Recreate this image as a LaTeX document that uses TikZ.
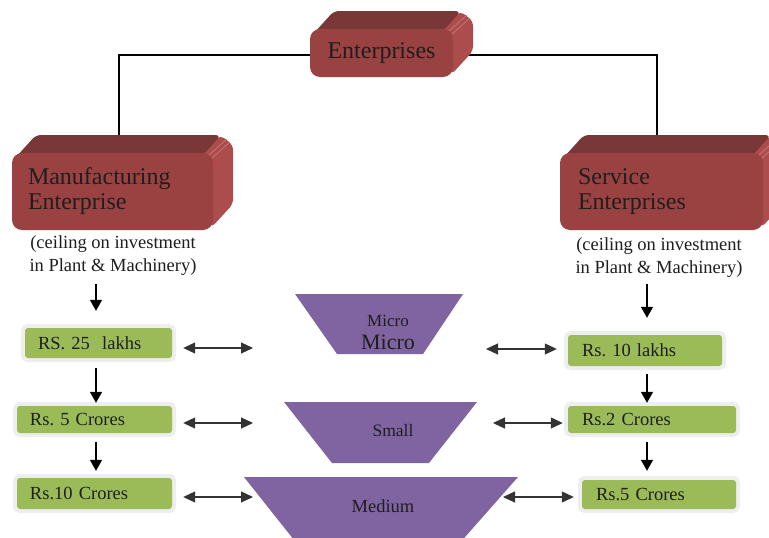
\documentclass[tikz,border=0pt]{standalone}
\usepackage{fontspec}
\setmainfont{Liberation Serif}
\usetikzlibrary{arrows.meta,calc}
\frenchspacing
\definecolor{redF}{HTML}{9A4242}
\definecolor{redT}{HTML}{7A3737}
\definecolor{redS}{HTML}{AC4C4C}
\definecolor{grn}{HTML}{9BBB59}
\definecolor{halo}{HTML}{EEEEEE}
\definecolor{purp}{HTML}{8064A2}
\definecolor{txt}{HTML}{1E1E1E}
\pgfdeclarelayer{bg}
\pgfsetlayers{bg,main}
\newcommand\tdbox[4]{%
 \fill[redS, rounded corners=5pt] (#3-12,#2) -- (#3+7,#2-18) -- (#3+20,#2-8) -- (#3+20,#4-26) -- (#3-2,#4-2) -- cycle;
 \draw[redS!70!white, line width=0.6pt] (#3-4,#2+2) -- (#3+14,#2-14);
 \draw[redS!70!white, line width=0.6pt] (#3-1,#2+5) -- (#3+17,#2-11);
 \fill[redT, rounded corners=5pt] (#1+4,#2+4) -- (#1+24,#2-18) -- (#3+8,#2-18) -- (#3-10,#2+2) -- cycle;
}
\tikzset{
 front/.style={fill=redF, rounded corners=10pt, text=txt, font=\fontsize{24}{25}\selectfont},
 gbox/.style={fill=grn, rounded corners=3pt, preaction={draw=halo, line width=8pt, rounded corners=4pt},
   text=txt, align=left, inner ysep=0pt, font=\fontsize{18.5}{20}\selectfont},
 captxt/.style={text=txt, align=center, inner sep=0pt, font=\fontsize{18.5}{23}\selectfont},
 ptxt/.style={text=txt, inner sep=0pt},
 trap/.style={fill=purp},
 conn/.style={draw=black, line width=1.1pt},
 varr/.style={draw=black, line width=1.5pt, -{Triangle[length=11pt,width=12pt]}},
 harr/.style={draw=black!80, line width=1.1pt, {Triangle[length=12pt,width=11pt]}-{Triangle[length=12pt,width=11pt]}},
}
\begin{document}
\begin{tikzpicture}[x=1pt,y=-1pt]
\useasboundingbox (0,0) rectangle (769,538);
\clip (0,0) rectangle (769,538);

% 3D boxes
\tdbox{310}{29}{453}{77}
\node[front, minimum width=143pt, minimum height=48pt] (ent) at (381.5,53) {Enterprises};
\tdbox{12}{153}{213}{230}
\node[front, minimum width=201pt, minimum height=77pt, text width=169pt, inner xsep=16pt, align=left] (mfg) at (112.5,191.5) {Manufacturing\\Enterprise};
\tdbox{560}{153}{763}{230}
\node[front, minimum width=203pt, minimum height=77pt, text width=167pt, inner xsep=18pt, align=left] (svc) at (661.5,191.5) {Service\\Enterprises};

\coordinate (mtop) at (119,135);
\coordinate (stop) at (657,135);
\begin{pgfonlayer}{bg}
\fill[white] (0,0) rectangle (769,538);
\draw[conn] ([yshift=-2pt]ent.west) -| (mtop);
\draw[conn] ([yshift=-2pt]ent.east) -| (stop);
\end{pgfonlayer}

% captions
\node[captxt] (cap1) at (113,256) {(ceiling on investment\\in Plant \& Machinery)};
\node[captxt] (cap2) at (659,258) {(ceiling on investment\\in Plant \& Machinery)};

% green boxes
\node[gbox, minimum width=147pt, minimum height=30pt, text width=121pt, inner xsep=13pt] (g1) at (98.5,343) {RS. 25\ \ lakhs};
\node[gbox, minimum width=155pt, minimum height=27pt, text width=129pt, inner xsep=13pt] (g2) at (94.5,419.5) {Rs. 5 Crores};
\node[gbox, minimum width=155pt, minimum height=31pt, text width=129pt, inner xsep=13pt] (g3) at (94.5,493.5) {Rs.10 Crores};
\node[gbox, minimum width=154pt, minimum height=31pt, text width=126pt, inner xsep=14pt] (r1) at (645,350.5) {Rs. 10 lakhs};
\node[gbox, minimum width=168pt, minimum height=27pt, text width=140pt, inner xsep=14pt] (r2) at (652,419.5) {Rs.2 Crores};
\node[gbox, minimum width=154pt, minimum height=29pt, text width=126pt, inner xsep=14pt] (r3) at (659,494.5) {Rs.5 Crores};

% trapezoids
\fill[trap] (295,294) -- (463,294) -- (423,354) -- (337,354) -- cycle;
\fill[trap] (284,402) -- (477,402) -- (429,463) -- (332,463) -- cycle;
\fill[trap] (244,477) -- (518,477) -- (458,545) -- (298,545) -- cycle;
\node[ptxt, font=\fontsize{17}{17}\selectfont] (mic1) at (388,321) {Micro};
\node[ptxt, font=\fontsize{22}{22}\selectfont] (mic2) at (388,342) {Micro};
\node[ptxt, font=\fontsize{17.5}{17.5}\selectfont] (sml) at (393,431) {Small};
\node[ptxt, font=\fontsize{18.5}{18.5}\selectfont] (med) at (383,506) {Medium};

% vertical arrows
\coordinate (lc) at (96,0);
\coordinate (rc) at (647,0);
\draw[varr, shorten <=8pt, shorten >=17pt] (cap1.south -| lc) -- (g1.north -| lc);
\draw[varr, shorten <=10pt, shorten >=3pt] (g1.south -| lc) -- (g2.north -| lc);
\draw[varr, shorten <=9pt, shorten >=7pt] (g2.south -| lc) -- (g3.north -| lc);
\draw[varr, shorten <=6pt, shorten >=17pt] (cap2.south -| rc) -- (r1.north -| rc);
\draw[varr, shorten <=8pt, shorten >=3pt] (r1.south -| rc) -- (r2.north -| rc);
\draw[varr, shorten <=9pt, shorten >=9pt] (r2.south -| rc) -- (r3.north -| rc);

% horizontal arrows
\coordinate (mL) at (253,348);
\coordinate (sL) at (253,423);
\coordinate (dL) at (253,497);
\coordinate (mR) at (486,349);
\coordinate (sR) at (493,423);
\coordinate (dR) at (503,497);
\draw[harr, shorten <=11pt] (g1.east |- mL) -- (mL);
\draw[harr, shorten <=11pt] (g2.east |- sL) -- (sL);
\draw[harr, shorten <=11pt] (g3.east |- dL) -- (dL);
\draw[harr, shorten >=11pt] (mR) -- (r1.west |- mR);
\draw[harr, shorten >=5pt] (sR) -- (r2.west |- sR);
\draw[harr, shorten >=8pt] (dR) -- (r3.west |- dR);
\end{tikzpicture}
\end{document}
